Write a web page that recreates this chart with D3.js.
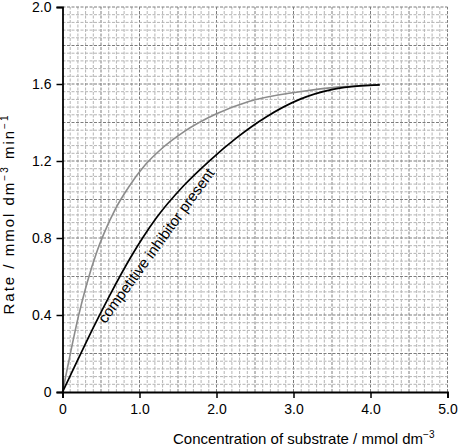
<!DOCTYPE html>
<html lang="en">
<head>
<meta charset="UTF-8">
<title>Rate vs substrate concentration</title>
<script src="https://cdn.jsdelivr.net/npm/d3@7"></script>
<style>
    body { margin: 0; background: #fff; }
    text { font-family: "Liberation Sans", Arial, sans-serif; fill: #000; }
</style>
</head>
<body>
<div id="chart"></div>
<script>
    // values
    const xTicks = [0, 1, 2, 3, 4, 5];
    const yTicks = [0, 0.4, 0.8, 1.2, 1.6, 2.0];

    const noInhibitor = [
        [0, 0], [0.11, 0.215], [0.205, 0.39], [0.314, 0.56], [0.452, 0.735],
        [0.535, 0.82], [0.686, 0.95], [0.86, 1.065], [1.075, 1.18], [1.29, 1.265],
        [1.57, 1.35], [2.0, 1.445], [2.43, 1.51], [3.08, 1.56], [3.6, 1.585], [4.12, 1.595]
    ];
    const withInhibitor = [
        [0, 0], [0.184, 0.155], [0.4, 0.335], [0.617, 0.505], [0.886, 0.70],
        [1.04, 0.80], [1.22, 0.905], [1.57, 1.07], [1.92, 1.205], [2.26, 1.32],
        [2.65, 1.43], [3.08, 1.52], [3.51, 1.572], [3.86, 1.59], [4.12, 1.595]
    ];
    const curveLabel = { text: "competitive inhibitor present", x: 1.27, y: 0.745, angle: -54 };

    let width = 461;
    let height = 446;
    let margin = { top: 7, right: 13.5, bottom: 54, left: 62.5 };

    let x = d3.scaleLinear().domain([0, 5]).range([margin.left, width - margin.right]);
    let y = d3.scaleLinear().domain([0, 2]).range([height - margin.bottom, margin.top]);

    let svg = d3.select("#chart").append("svg")
        .attr("width", width)
        .attr("height", height);

    // graph paper: minor every 0.1 (x) / 0.04 (y), heavier every 5
    let gridX = d3.range(1, 51).map(i => ({ v: i / 10, major: i % 5 == 0 }));
    let gridY = d3.range(1, 51).map(i => ({ v: i * 0.04, major: i % 5 == 0 }));

    let grid = svg.append("g").attr("class", "grid");
    grid.selectAll("line.gx")
        .data(gridX)
        .join("line")
        .attr("class", "gx")
        .attr("x1", d => x(d.v)).attr("x2", d => x(d.v))
        .attr("y1", y(0)).attr("y2", y(2))
        .attr("stroke", d => d.major ? "#7c7c7c" : "#b4b4b4")
        .attr("stroke-width", 1)
        .attr("stroke-dasharray", "3,1.5");
    grid.selectAll("line.gy")
        .data(gridY)
        .join("line")
        .attr("class", "gy")
        .attr("x1", x(0)).attr("x2", x(5))
        .attr("y1", d => y(d.v)).attr("y2", d => y(d.v))
        .attr("stroke", d => d.major ? "#7c7c7c" : "#b4b4b4")
        .attr("stroke-width", 1)
        .attr("stroke-dasharray", "3,1.5");

    let line = d3.line()
        .x(d => x(d[0]))
        .y(d => y(d[1]))
        .curve(d3.curveMonotoneX);

    svg.append("path")
        .datum(noInhibitor)
        .attr("d", line)
        .attr("fill", "none")
        .attr("stroke", "#8c8c8c")
        .attr("stroke-width", 1.6);

    svg.append("path")
        .datum(withInhibitor)
        .attr("d", line)
        .attr("fill", "none")
        .attr("stroke", "#000")
        .attr("stroke-width", 1.7);

    svg.append("text")
        .attr("transform", `translate(${x(curveLabel.x)},${y(curveLabel.y)}) rotate(${curveLabel.angle})`)
        .attr("text-anchor", "middle")
        .style("font-size", "15px")
        .text(curveLabel.text);

    // axes
    let xAxis = d3.axisBottom(x)
        .tickValues(xTicks)
        .tickSize(6)
        .tickFormat(d => d == 0 ? "0" : d3.format(".1f")(d));
    let yAxis = d3.axisLeft(y)
        .tickValues(yTicks)
        .tickSize(6)
        .tickFormat(d => d == 0 ? "0" : d3.format(".1f")(d));

    let gx = svg.append("g")
        .attr("transform", `translate(0, ${y(0)})`)
        .call(xAxis);
    let gy = svg.append("g")
        .attr("transform", `translate(${x(0)}, 0)`)
        .call(yAxis);

    [gx, gy].forEach(g => {
        g.select(".domain").attr("stroke", "#000").attr("stroke-width", 1.8);
        g.selectAll(".tick line").attr("stroke", "#000").attr("stroke-width", 1.5);
        g.selectAll(".tick text")
            .style("font-family", "'Liberation Sans', Arial, sans-serif")
            .style("font-size", "14px");
    });
    gx.selectAll(".tick text").attr("y", 12).attr("dy", "0.71em");
    gy.selectAll(".tick text").attr("x", -11);

    // axis titles
    let xTitle = svg.append("text")
        .attr("x", 173)
        .attr("y", 444)
        .style("font-size", "15px");
    xTitle.append("tspan").text("Concentration of substrate / mmol dm");
    xTitle.append("tspan").attr("dy", -6).style("font-size", "10px").text("\u22123");

    let yTitle = svg.append("text")
        .attr("transform", `translate(14, 214) rotate(-90)`)
        .attr("text-anchor", "middle")
        .style("font-size", "15px")
        .style("letter-spacing", "2px");
    yTitle.append("tspan").text("Rate / mmol dm");
    yTitle.append("tspan").attr("dy", -6).style("font-size", "10px").text("\u22123");
    yTitle.append("tspan").attr("dy", 6).text(" min");
    yTitle.append("tspan").attr("dy", -6).style("font-size", "10px").text("\u22121");
</script>
</body>
</html>
